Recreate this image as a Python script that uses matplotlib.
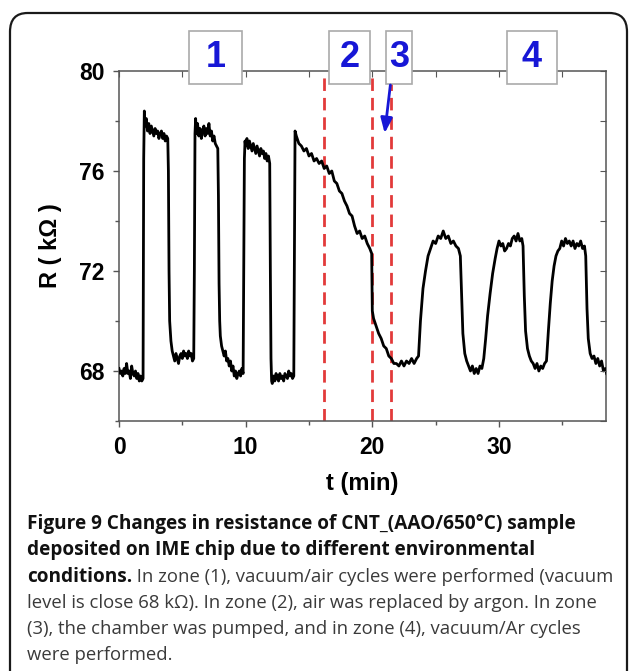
import matplotlib
matplotlib.use('Agg')
import matplotlib.pyplot as plt
import matplotlib.ticker as plticker
from matplotlib.patches import FancyBboxPatch, Rectangle

# resistance trace (t in min, R in kOhm)
t_min = [
    0.0, 0.1, 0.2, 0.3, 0.4, 0.5, 0.6, 0.7, 0.8, 0.9, 1.0, 1.1, 1.2, 1.3, 1.4, 1.5, 1.6, 1.7, 1.8, 1.9,
    1.95, 2.0,
    2.05, 2.15, 2.25, 2.35, 2.45, 2.55, 2.65, 2.75, 2.85, 2.95, 3.05, 3.15, 3.25, 3.35, 3.45, 3.55, 3.65, 3.75, 3.85,
    3.9, 3.95, 4.0, 4.1, 4.2,
    4.3, 4.4, 4.5, 4.6, 4.7, 4.8, 4.9, 5.0, 5.1, 5.2, 5.3, 5.4, 5.5, 5.6, 5.7, 5.8, 5.9,
    5.95, 6.0, 6.05,
    6.1, 6.2, 6.3, 6.4, 6.5, 6.6, 6.7, 6.8, 6.9, 7.0, 7.1, 7.2, 7.3, 7.4, 7.5, 7.6, 7.7, 7.8,
    7.85, 7.9, 7.95, 8.0, 8.1, 8.2,
    8.3, 8.4, 8.5, 8.6, 8.7, 8.8, 8.9, 9.0, 9.1, 9.2, 9.3, 9.4, 9.5, 9.6, 9.7, 9.8,
    9.85, 9.9, 9.95,
    10.0, 10.1, 10.2, 10.3, 10.4, 10.5, 10.6, 10.7, 10.8, 10.9, 11.0, 11.1, 11.2, 11.3, 11.4, 11.5, 11.6, 11.7, 11.8, 11.9,
    11.95, 12.0, 12.05,
    12.1, 12.2, 12.3, 12.4, 12.5, 12.6, 12.7, 12.8, 12.9, 13.0, 13.1, 13.2, 13.3, 13.4, 13.5, 13.6, 13.7, 13.8,
    13.85, 13.9,
    14.0, 14.2, 14.4, 14.6, 14.8, 15.0, 15.2, 15.4, 15.6, 15.8, 16.0, 16.2, 16.4, 16.6, 16.8, 17.0,
    17.2, 17.4, 17.6, 17.8, 18.0, 18.2, 18.4, 18.6, 18.8, 19.0, 19.2, 19.4, 19.6, 19.8, 19.95,
    20.0, 20.1, 20.3, 20.5, 20.7, 20.9, 21.1, 21.3, 21.5, 21.7, 21.9, 22.1, 22.3, 22.5, 22.7, 22.9,
    23.1, 23.3, 23.5, 23.65,
    23.8, 24.0, 24.2, 24.4, 24.6, 24.8, 25.0, 25.2, 25.4, 25.6, 25.8, 26.0, 26.2, 26.4, 26.6, 26.8, 26.95,
    27.05, 27.15, 27.3, 27.45, 27.6, 27.75, 27.9, 28.05, 28.2, 28.35, 28.5, 28.65, 28.8,
    28.95, 29.1, 29.3, 29.5, 29.7, 29.85, 30.0, 30.15, 30.3, 30.45, 30.6, 30.75, 30.9, 31.05, 31.2,
    31.35, 31.5, 31.65, 31.8, 31.9,
    32.0, 32.1, 32.25, 32.4, 32.55, 32.7, 32.85, 33.0, 33.15, 33.3, 33.45, 33.6, 33.75,
    33.9, 34.05, 34.2, 34.35, 34.5, 34.65, 34.8, 34.95, 35.1, 35.25, 35.4, 35.55, 35.7, 35.85, 36.0,
    36.15, 36.3, 36.45, 36.6, 36.75, 36.85,
    36.95, 37.05, 37.2, 37.35, 37.5, 37.65, 37.8, 37.95, 38.1, 38.25, 38.4, 38.5,
]
r_kohm = [
    68.1, 67.9, 68.0, 67.8, 68.1, 67.9, 68.3, 67.9, 68.0, 67.7, 68.2, 67.9, 67.8, 68.0, 67.7, 67.9, 67.6, 67.8, 67.6, 67.7,
    76.5, 78.4,
    77.8, 78.1, 77.6, 77.9, 77.5, 77.8, 77.6, 77.4, 77.7, 77.5, 77.6, 77.3, 77.5, 77.6, 77.3, 77.5, 77.2, 77.4, 77.3,
    76.0, 72.0, 70.0, 69.2, 68.8,
    68.6, 68.4, 68.7, 68.5, 68.3, 68.6, 68.7, 68.5, 68.8, 68.6, 68.7, 68.5, 68.8, 68.6, 68.7, 68.4, 68.5,
    72.0, 77.5, 78.1,
    77.5, 77.9, 77.4, 77.7, 77.3, 77.6, 77.8, 77.4, 77.7, 77.5, 77.9, 77.4, 77.6, 77.2, 77.4, 77.1, 77.0, 76.9,
    75.0, 71.5, 70.0, 69.4, 69.0, 68.8,
    68.6, 68.8, 68.4, 68.5, 68.2, 68.4, 68.0, 68.2, 67.8, 68.0, 67.7, 67.9, 68.0, 67.8, 68.1, 67.9,
    72.0, 76.5, 77.2,
    77.0, 77.3, 76.9, 77.2, 77.0, 76.8, 77.1, 76.9, 76.7, 77.0, 76.8, 76.6, 76.9, 76.7, 76.8, 76.5, 76.7, 76.4, 76.6, 76.3,
    72.0, 68.5, 67.6,
    67.5, 67.8, 67.6, 67.9, 67.7, 67.6, 67.9, 67.7, 67.8, 67.6, 67.9, 67.8, 67.7, 68.0, 67.8, 67.9, 67.7, 67.8,
    73.0, 77.6,
    77.4, 77.1, 77.0, 76.8, 76.9, 76.6, 76.7, 76.4, 76.5, 76.3, 76.4, 76.1, 76.2, 75.9, 76.0, 75.6,
    75.5, 75.2, 75.1, 74.8, 74.6, 74.3, 74.2, 73.8, 73.5, 73.6, 73.3, 73.4, 73.1, 72.9, 72.7,
    70.4, 70.1, 69.8, 69.5, 69.3, 69.0, 68.9, 68.6, 68.5, 68.3, 68.3, 68.2, 68.4, 68.2, 68.4, 68.3,
    68.5, 68.3, 68.5, 68.6,
    70.0, 71.3, 72.0, 72.6, 72.9, 73.2, 73.1, 73.4, 73.3, 73.6, 73.3, 73.4, 73.1, 73.2, 73.0, 72.9, 72.6,
    71.0, 69.5, 68.7, 68.4, 68.2, 68.0, 68.2, 67.9, 68.1, 67.9, 68.2, 68.1, 68.5,
    69.3, 70.2, 71.1, 71.9, 72.5, 72.9, 73.2, 73.0, 73.1, 72.8, 72.9, 73.1, 73.0, 73.3, 73.4,
    73.2, 73.5, 73.2, 73.3, 73.0,
    71.0, 69.6, 68.9, 68.6, 68.4, 68.3, 68.1, 68.3, 68.0, 68.2, 68.1, 68.3, 68.4,
    69.6, 70.7, 71.6, 72.2, 72.6, 72.8, 72.9, 73.2, 73.0, 73.3, 73.1, 73.2, 73.0, 73.2, 72.9,
    73.1, 73.0, 73.2, 72.9, 73.0, 72.6,
    70.5, 69.3, 68.7, 68.5, 68.6, 68.3, 68.5, 68.2, 68.4, 68.0, 68.1, 67.9,
]

# zone boundaries (red dashed lines) and zone labels
zone_bounds = [16.2, 20.0, 21.5]
zone_labels = ['1', '2', '3', '4']
zone_box_left = [5.5, 16.6, 21.1, 30.6]
zone_box_right = [9.7, 19.8, 23.1, 34.6]

caption_bold = ['Figure 9 Changes in resistance of CNT_(AAO/650°C) sample',
                'deposited on IME chip due to different environmental']
caption_lead = 'conditions.'
caption_rest = [' In zone (1), vacuum/air cycles were performed (vacuum',
                'level is close 68 kΩ). In zone (2), air was replaced by argon. In zone',
                '(3), the chamber was pumped, and in zone (4), vacuum/Ar cycles',
                'were performed.']

W, H = 629, 671
fig = plt.figure(figsize=(W / 100, H / 100), dpi=100)
ax = fig.add_axes([119 / W, 1 - 421 / H, (606 - 119) / W, (421 - 71) / H])

ax.plot(t_min, r_kohm, color='black', lw=2.0, zorder=3)
for xb in zone_bounds:
    ax.axvline(xb, color='#e23a3a', lw=2, dashes=(4.5, 2.5), zorder=2)

ax.set_xlim(0, 38.45)
ax.set_ylim(66, 80)
ax.xaxis.set_major_locator(plticker.MultipleLocator(10))
ax.xaxis.set_minor_locator(plticker.MultipleLocator(5))
ax.yaxis.set_major_locator(plticker.MultipleLocator(4))
ax.yaxis.set_minor_locator(plticker.MultipleLocator(2))
ax.set_yticks([68, 72, 76, 80])

for s in ax.spines.values():
    s.set_color('#555555')
    s.set_linewidth(1.1)

tick_font = dict(family='Liberation Sans', weight='bold', size=16.5)
ax.tick_params(which='both', colors='#555555', width=1.0)
ax.tick_params(which='major', length=4.5, pad=6)
ax.tick_params(which='minor', length=3)
ax.tick_params(which='both', direction='out', top=False, right=False)
for lab in ax.get_xticklabels() + ax.get_yticklabels():
    lab.set_fontproperties(tick_font)
    lab.set_color('black')

# inward ticks on top and right
ax2 = ax.twinx()
ax2.set_ylim(66, 80)
ax2.yaxis.set_major_locator(plticker.MultipleLocator(2))
ax2.tick_params(axis='y', direction='in', length=4, colors='#555555', labelright=False)
ax3 = ax.twiny()
ax3.set_xlim(0, 38.45)
ax3.xaxis.set_major_locator(plticker.MultipleLocator(5))
ax3.tick_params(axis='x', direction='in', length=4, colors='#555555', labeltop=False)
for a in (ax2, ax3):
    for s in a.spines.values():
        s.set_visible(False)

ax.set_xlabel('t (min)', fontproperties=dict(family='Liberation Sans', weight='bold', size=17), labelpad=10)
ax.set_ylabel('R ( kΩ )', fontproperties=dict(family='Liberation Sans', weight='bold', size=17), labelpad=12)

# zone label boxes sitting on the top spine
for lab, x0, x1 in zip(zone_labels, zone_box_left, zone_box_right):
    ax3.add_patch(Rectangle((x0, 79.5), x1 - x0, 2.1, facecolor='white', edgecolor='#aaaaaa',
                            lw=1.2, clip_on=False, zorder=10))
    ax3.text((x0 + x1) / 2, 80.55, lab, ha='center', va='center', color='#1717d6',
             family='Liberation Sans', weight='bold', size=26, clip_on=False, zorder=11)

ax3.annotate('', xy=(20.95, 77.4), xytext=(21.45, 79.55),
             arrowprops=dict(arrowstyle='-|>,head_width=0.35,head_length=0.9', color='#1717d6', lw=2),
             annotation_clip=False, zorder=11)

# outer rounded frame
fig.patches.append(FancyBboxPatch((10 / W, -0.05), (627 - 10) / W, 1 - 13 / H + 0.05,
                                  boxstyle='round,pad=0,rounding_size=0.028',
                                  transform=fig.transFigure, facecolor='none',
                                  edgecolor='#1a1a1a', lw=1.6, figure=fig))

# caption: sizes fitted so line widths match the reference
cap_x = 27 / W
base = [529, 555.5, 582, 608, 634, 660]
renderer = fig.canvas.get_renderer()


def fitted_size(text, weight, target_px, start=14.0):
    probe = fig.text(0, 0, text, family='Open Sans', weight=weight, size=start)
    w = probe.get_window_extent(renderer).width
    probe.remove()
    return start * target_px / w


bold_size = fitted_size(caption_bold[0], 'bold', 577 - 27)
reg_size = fitted_size(caption_rest[1], 'normal', 599 - 27)

for i, line in enumerate(caption_bold):
    fig.text(cap_x, 1 - base[i] / H, line, family='Open Sans', weight='bold', size=bold_size,
             color='#111111', va='baseline')
lead = fig.text(cap_x, 1 - base[2] / H, caption_lead, family='Open Sans', weight='bold',
                size=bold_size, color='#111111', va='baseline')
bb = lead.get_window_extent(renderer)
fig.text(bb.x1 / W, 1 - base[2] / H, caption_rest[0], family='Open Sans', size=reg_size,
         color='#3a3a3a', va='baseline')
for i, line in enumerate(caption_rest[1:]):
    fig.text(cap_x, 1 - base[3 + i] / H, line, family='Open Sans', size=reg_size,
             color='#3a3a3a', va='baseline')

fig.savefig('out.png', dpi=100)
